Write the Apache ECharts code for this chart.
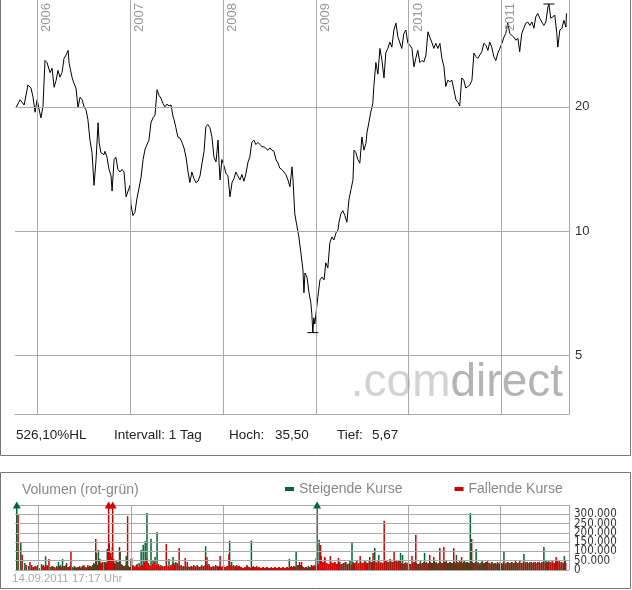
<!DOCTYPE html>
<html>
<head>
<meta charset="utf-8">
<script src="https://cdn.jsdelivr.net/npm/echarts@6/dist/echarts.min.js"></script>
<style>
  html, body { margin: 0; padding: 0; background: #fff; }
  #chart { width: 632px; height: 590px; }
</style>
</head>
<body>
<div id="chart"></div>
<script>
const dates = [
  // 2005
  '2005-10-09','2005-10-25','2005-11-10','2005-11-25','2005-12-07','2005-12-15','2005-12-23','2005-12-31',
  // 2006
  '2006-01-15','2006-01-23','2006-01-31','2006-02-08','2006-02-20','2006-02-28','2006-03-08','2006-03-16','2006-03-23','2006-03-31',
  '2006-04-08','2006-04-16','2006-04-24','2006-05-02','2006-05-06','2006-05-18','2006-05-25','2006-06-02','2006-06-10','2006-06-18',
  '2006-06-26','2006-07-04','2006-07-12','2006-07-19','2006-07-27','2006-08-04','2006-08-12','2006-08-20','2006-08-28','2006-09-01',
  '2006-09-08','2006-09-20','2006-09-24','2006-10-02','2006-10-10','2006-10-18','2006-10-22','2006-10-30','2006-11-06','2006-11-14',
  '2006-11-22','2006-11-30','2006-12-08','2006-12-16','2006-12-24',
  // 2007
  '2007-01-01','2007-01-04','2007-01-12','2007-01-20','2007-01-28','2007-02-05','2007-02-13','2007-02-21','2007-03-01','2007-03-08',
  '2007-03-16','2007-03-24','2007-04-01','2007-04-09','2007-04-17','2007-04-25','2007-05-02','2007-05-10','2007-05-18','2007-05-26',
  '2007-06-03','2007-06-11','2007-06-19','2007-06-23','2007-06-30','2007-07-08','2007-07-16','2007-07-24','2007-08-01','2007-08-09',
  '2007-08-17','2007-08-24','2007-09-01','2007-09-09','2007-09-17','2007-09-25','2007-10-03','2007-10-11','2007-10-19','2007-10-26',
  '2007-11-03','2007-11-11','2007-11-19','2007-11-27','2007-12-05','2007-12-13','2007-12-17','2007-12-21','2007-12-28',
  // 2008
  '2008-01-05','2008-01-13','2008-01-21','2008-01-29','2008-02-06','2008-02-14','2008-02-21','2008-02-29','2008-03-08','2008-03-16',
  '2008-03-24','2008-04-01','2008-04-09','2008-04-16','2008-04-24','2008-05-02','2008-05-10','2008-05-18','2008-05-26','2008-06-03',
  '2008-06-11','2008-06-18','2008-06-26','2008-07-04','2008-07-12','2008-07-20','2008-07-28','2008-08-05','2008-08-12','2008-08-20',
  '2008-08-28','2008-09-05','2008-09-13','2008-09-21','2008-09-29','2008-10-03','2008-10-10','2008-10-18','2008-10-26','2008-10-30',
  '2008-11-03','2008-11-11','2008-11-15','2008-11-19','2008-11-27','2008-12-05','2008-12-12','2008-12-16','2008-12-20','2008-12-24','2008-12-28',
  // 2009
  '2009-01-05','2009-01-09','2009-01-17','2009-01-25','2009-02-02','2009-02-09','2009-02-17','2009-02-25','2009-03-05','2009-03-13',
  '2009-03-21','2009-03-29','2009-04-02','2009-04-09','2009-04-17','2009-04-25','2009-05-03','2009-05-11','2009-05-19','2009-05-27',
  '2009-05-31','2009-06-07','2009-06-15','2009-06-23','2009-07-01','2009-07-09','2009-07-17','2009-07-21','2009-07-29','2009-08-05',
  '2009-08-13','2009-08-17','2009-08-25','2009-09-02','2009-09-10','2009-09-18','2009-09-26','2009-10-03','2009-10-11','2009-10-19',
  '2009-10-27','2009-11-04','2009-11-12','2009-11-20','2009-11-27','2009-12-05','2009-12-13','2009-12-21','2009-12-29',
  // 2010
  '2010-01-06','2010-01-14','2010-01-22','2010-01-29','2010-02-06','2010-02-14','2010-02-22','2010-03-02','2010-03-10','2010-03-18',
  '2010-03-25','2010-04-02','2010-04-10','2010-04-18','2010-04-26','2010-05-04','2010-05-12','2010-05-20','2010-05-27','2010-06-04',
  '2010-06-12','2010-06-20','2010-06-28','2010-07-06','2010-07-14','2010-07-21','2010-07-29','2010-08-06','2010-08-14','2010-08-22',
  '2010-08-30','2010-09-07','2010-09-15','2010-09-22','2010-09-30','2010-10-08','2010-10-16','2010-10-24','2010-11-01','2010-11-09',
  '2010-11-16','2010-11-24','2010-12-02','2010-12-10','2010-12-18','2010-12-26',
  // 2011
  '2011-01-03','2011-01-11','2011-01-18','2011-01-26','2011-02-03','2011-02-11','2011-02-19','2011-02-27','2011-03-07','2011-03-14',
  '2011-03-22','2011-03-30','2011-04-07','2011-04-15','2011-04-23','2011-05-01','2011-05-09','2011-05-16','2011-05-24','2011-06-01',
  '2011-06-09','2011-06-17','2011-06-25','2011-07-03','2011-07-07','2011-07-14','2011-07-22','2011-07-30','2011-08-07','2011-08-11',
  '2011-08-19','2011-08-27','2011-09-04','2011-09-12','2011-09-14'
]

const close = [
  19.9, 20.8, 20.2, 22.6, 22.2, 21.1, 19.4, 20.8,
  18.8, 20.0, 25.9, 25.6, 24.2, 24.8, 22.3, 23.2, 24.5, 23.6,
  24.2, 26.2, 26.7, 27.4, 25.5, 23.5, 22.8, 22.2, 19.9, 21.1,
  20.8, 20.0, 19.6, 18.6, 16.6, 15.5, 12.9, 14.9, 18.3, 16.4,
  15.5, 15.3, 15.6, 15.1, 14.1, 13.6, 12.5, 14.9, 15.1, 14.1,
  13.9, 14.1, 13.9, 12.1, 12.5,
  12.9, 11.6, 10.9, 11.1, 12.0, 12.7, 13.5, 14.9, 15.8, 15.9,
  16.6, 18.3, 18.8, 19.1, 22.0, 21.3, 21.0, 20.4, 20.0, 20.3,
  20.1, 20.2, 18.9, 18.6, 17.8, 16.9, 16.8, 16.4, 15.9, 15.1,
  13.9, 13.1, 13.9, 13.4, 13.1, 13.2, 13.6, 14.6, 15.6, 17.9,
  18.1, 17.8, 16.9, 15.1, 14.7, 16.6, 14.6, 13.3, 14.9,
  14.4, 13.8, 13.6, 12.1, 13.1, 13.4, 13.9, 13.6, 13.3, 13.7,
  13.2, 13.8, 14.7, 15.1, 16.4, 16.6, 16.2, 16.4, 16.2, 16.0,
  16.0, 15.9, 15.7, 15.9, 15.7, 15.6, 14.9, 14.6, 14.2, 14.1,
  13.9, 13.7, 13.3, 12.8, 14.3, 13.3, 11.0, 10.3, 9.67, 9.25,
  8.85, 8.05, 7.08, 7.91, 7.73, 7.08, 6.70, 6.30, 5.67, 6.16, 5.95,
  6.60, 6.94, 7.61, 7.73, 7.61, 8.37, 8.14, 9.36, 9.67, 9.51,
  9.89, 10.06, 10.5, 11.0, 11.2, 10.9, 10.5, 11.9, 12.6, 13.3,
  15.7, 15.5, 14.9, 14.6, 16.9, 15.7, 16.3, 17.3, 18.4, 19.4,
  20.4, 22.4, 25.6, 24.0, 27.7, 25.9, 23.5, 27.0, 27.7, 28.7,
  27.9, 30.7, 31.9, 29.5, 29.3, 27.7, 30.1, 30.7, 28.5,
  28.2, 27.7, 25.0, 26.2, 27.4, 25.6, 25.9, 25.7, 26.7, 30.4,
  29.5, 28.7, 27.7, 28.5, 27.7, 28.5, 26.2, 25.0, 22.4, 23.2,
  23.0, 23.2, 22.0, 20.8, 20.5, 20.1, 23.5, 23.2, 22.2, 22.4,
  22.6, 23.2, 27.0, 26.5, 26.2, 26.7, 27.2, 28.5, 28.2, 27.4,
  28.7, 27.9, 26.5, 25.9, 27.0, 27.7,
  28.5, 29.5, 30.1, 31.9, 30.1, 29.8, 29.5, 29.0, 29.3, 27.2,
  30.1, 31.0, 31.9, 32.1, 31.5, 32.1, 31.0, 33.0, 33.7, 32.8,
  32.1, 31.5, 32.1, 34.9, 35.5, 32.8, 33.0, 33.4, 30.1, 27.9,
  30.7, 31.0, 32.4, 31.2, 33.7
]

// Volumen an steigenden / fallenden Tagen
const volUp = [
  480000, 145000, 38000, 22000, 27000, 16000, 22000, 27000,
  32000, 27000, 74000, 22000, 16000, 22000, 16000, 22000, 43000, 27000,
  59000, 22000, 38000, 16000, 11000, 16000, 22000, 11000, 16000, 11000,
  22000, 16000, 11000, 16000, 22000, 27000, 32000, 92000, 108000, 43000,
  38000, 43000, 43000, 113000, 155000, 70000, 124000, 38000, 54000, 43000,
  102000, 27000, 22000, 75000, 22000,
  16000, 59000, 27000, 22000, 32000, 38000, 108000, 136000, 155000, 307000,
  27000, 168000, 54000, 70000, 204000, 22000, 27000, 16000, 22000, 27000,
  59000, 27000, 70000, 38000, 43000, 32000, 22000, 16000, 22000, 16000,
  22000, 16000, 22000, 27000, 16000, 22000, 16000, 27000, 22000, 128000,
  27000, 22000, 16000, 22000, 27000, 16000, 16000, 22000, 16000,
  27000, 16000, 22000, 158000, 43000, 27000, 22000, 16000, 22000, 16000,
  11000, 16000, 22000, 16000, 158000, 22000, 16000, 11000, 16000, 11000,
  16000, 11000, 16000, 11000, 16000, 11000, 16000, 11000, 16000, 11000,
  16000, 11000, 16000, 59000, 22000, 16000, 22000, 97000, 27000, 22000,
  16000, 22000, 16000, 11000, 16000, 22000, 16000, 11000, 16000, 22000, 27000,
  65000, 450000, 163000, 75000, 43000, 65000, 38000, 32000, 43000, 38000,
  43000, 32000, 38000, 43000, 32000, 38000, 43000, 32000, 54000, 145000,
  43000, 38000, 48000, 38000, 43000, 38000, 48000, 43000, 38000, 70000,
  43000, 43000, 118000, 38000, 81000, 43000, 38000, 43000, 54000, 43000,
  48000, 43000, 54000, 48000, 54000, 92000, 81000, 38000, 32000,
  38000, 32000, 38000, 43000, 38000, 32000, 48000, 38000, 92000, 43000,
  38000, 43000, 38000, 48000, 43000, 38000, 43000, 38000, 43000, 54000,
  38000, 43000, 38000, 43000, 81000, 38000, 43000, 38000, 54000, 43000,
  38000, 307000, 43000, 38000, 113000, 43000, 38000, 48000, 38000, 43000,
  38000, 32000, 43000, 38000, 32000, 38000,
  43000, 32000, 97000, 38000, 43000, 38000, 43000, 38000, 43000, 38000,
  48000, 38000, 86000, 43000, 38000, 43000, 38000, 43000, 38000, 43000,
  38000, 43000, 124000, 54000, 43000, 48000, 38000, 43000, 38000, 48000,
  43000, 38000, 43000, 38000, 75000
]

const volDown = [
  300000, 82000, 27000, 43000, 16000, 22000, 16000, 11000,
  22000, 16000, 27000, 59000, 22000, 16000, 11000, 16000, 22000, 16000,
  22000, 27000, 16000, 22000, 104000, 11000, 16000, 16000, 22000, 16000,
  27000, 16000, 27000, 22000, 16000, 38000, 167000, 27000, 59000, 38000,
  43000, 32000, 38000, 420000, 92000, 400000, 59000, 32000, 43000, 124000,
  32000, 22000, 27000, 290000, 16000,
  65000, 22000, 16000, 27000, 16000, 22000, 27000, 43000, 59000, 38000,
  22000, 32000, 43000, 27000, 32000, 16000, 22000, 22000, 140000, 16000,
  22000, 32000, 27000, 22000, 38000, 118000, 27000, 22000, 65000, 43000,
  16000, 22000, 16000, 22000, 27000, 16000, 22000, 16000, 27000, 70000,
  32000, 16000, 22000, 16000, 22000, 22000, 75000, 16000, 22000,
  16000, 22000, 86000, 27000, 22000, 16000, 27000, 22000, 16000, 11000,
  16000, 27000, 16000, 11000, 16000, 16000, 22000, 16000, 11000, 16000,
  11000, 16000, 11000, 11000, 11000, 16000, 11000, 16000, 11000, 16000,
  11000, 16000, 11000, 16000, 16000, 22000, 16000, 27000, 43000, 27000,
  43000, 16000, 11000, 16000, 11000, 16000, 27000, 22000, 11000, 16000, 22000,
  22000, 32000, 135000, 43000, 70000, 38000, 32000, 75000, 38000, 43000,
  32000, 65000, 27000, 32000, 38000, 43000, 32000, 38000, 27000, 32000,
  38000, 43000, 32000, 75000, 38000, 43000, 32000, 38000, 48000, 43000,
  92000, 38000, 43000, 48000, 38000, 38000, 265000, 54000, 43000, 59000,
  43000, 97000, 48000, 43000, 48000, 38000, 32000, 43000, 38000,
  32000, 75000, 43000, 190000, 32000, 38000, 32000, 43000, 38000, 32000,
  81000, 38000, 70000, 38000, 32000, 118000, 38000, 124000, 43000, 38000,
  43000, 38000, 118000, 38000, 43000, 48000, 70000, 43000, 38000, 43000,
  38000, 167000, 38000, 43000, 38000, 32000, 43000, 38000, 43000, 48000,
  38000, 43000, 32000, 38000, 43000, 32000,
  38000, 43000, 32000, 43000, 38000, 43000, 38000, 54000, 38000, 43000,
  38000, 43000, 38000, 43000, 38000, 43000, 38000, 43000, 38000, 43000,
  38000, 43000, 38000, 43000, 38000, 43000, 48000, 38000, 70000, 54000,
  48000, 43000, 38000, 48000, 38000
]

const years = [2006, 2007, 2008, 2009, 2010, 2011]
const priceTicks = [5, 10, 20]
const volTicks = [0, 50000, 100000, 150000, 200000, 250000, 300000]
const volMax = 350000

const ts = s => +new Date(s + 'T00:00:00')
const xMin = ts('2005-10-05')
const xMax = ts('2011-09-24')
const gridColor = '#aaaaaa'
const sans = "'Liberation Sans', Arial, sans-serif"
const narrow = "'Liberation Sans Narrow', 'DejaVu Sans Condensed', 'Liberation Sans', sans-serif"

const hoch = Math.max(...close)
const tief = Math.min(...close)
const komma = (v, d) => v.toFixed(d).replace('.', ',')
const tausender = v => String(v).replace(/\B(?=(\d{3})+(?!\d))/g, '.')

const yearLines = years.map(y => ({ xAxis: +new Date(y, 0, 1) }))

const chart = echarts.init(document.getElementById('chart'), null, { renderer: 'canvas' })

chart.setOption({
  animation: false,
  textStyle: { fontFamily: sans },
  grid: [
    { left: 15, top: 0, width: 554, height: 414 },
    { left: 15, top: 505, width: 554, height: 65 }
  ],
  legend: {
    data: ['Steigende Kurse', 'Fallende Kurse'],
    left: 285,
    top: 482,
    padding: 0,
    icon: 'rect',
    itemWidth: 9,
    itemHeight: 4,
    itemGap: 52,
    selectedMode: false,
    textStyle: { color: '#888', fontSize: 14, fontFamily: sans }
  },
  xAxis: [
    {
      type: 'time', gridIndex: 0, min: xMin, max: xMax,
      axisLine: { show: true, onZero: false, lineStyle: { color: gridColor } },
      axisTick: { show: false }, axisLabel: { show: false }, splitLine: { show: false }
    },
    {
      type: 'time', gridIndex: 1, min: xMin, max: xMax,
      axisLine: { show: false }, axisTick: { show: false },
      axisLabel: { show: false }, splitLine: { show: false }
    }
  ],
  yAxis: [
    {
      type: 'log', gridIndex: 0, position: 'right', min: 3.6, max: 36.3,
      axisLine: { show: true, lineStyle: { color: gridColor } },
      axisTick: { show: false }, axisLabel: { show: false }, splitLine: { show: false }
    },
    {
      type: 'value', gridIndex: 1, position: 'right', min: 0, max: volMax, interval: 50000,
      axisLine: { show: true, lineStyle: { color: gridColor } },
      axisTick: { show: false }, axisLabel: { show: false },
      splitLine: { show: true, lineStyle: { color: gridColor } }
    }
  ],
  series: [
    {
      // Raster Kurschart
      type: 'line', data: [], xAxisIndex: 0, yAxisIndex: 0, silent: true, z: 1,
      markLine: {
        silent: true, symbol: ['none', 'none'], animation: false,
        lineStyle: { color: gridColor, type: 'solid', width: 1 },
        data: [
          ...priceTicks.map(v => ({
            yAxis: v,
            label: { show: true, position: 'end', formatter: String(v), color: '#333', fontSize: 13, distance: 6 }
          })),
          ...yearLines.map((d, i) => ({
            xAxis: d.xAxis,
            label: {
              show: true, position: 'insideEndBottom', formatter: String(years[i]),
              color: '#999', fontSize: 13, distance: 3
            }
          }))
        ]
      }
    },
    {
      name: 'Kurs', type: 'line', xAxisIndex: 0, yAxisIndex: 0, z: 3,
      data: dates.map((d, i) => [ts(d), close[i]]),
      showSymbol: false, symbol: 'none',
      lineStyle: { color: '#000', width: 1 },
      markPoint: {
        symbol: 'rect', symbolSize: [11, 1], silent: true,
        label: { show: false }, itemStyle: { color: '#000' },
        data: [{ type: 'max' }, { type: 'min' }]
      }
    },
    {
      // Raster Volumen + Achsenbeschriftung
      type: 'line', data: [], xAxisIndex: 1, yAxisIndex: 1, silent: true, z: 1,
      markLine: {
        silent: true, symbol: ['none', 'none'], animation: false,
        lineStyle: { color: gridColor, type: 'solid', width: 1 },
        label: { show: false },
        data: [
          ...yearLines,
          ...volTicks.map(v => ({
            yAxis: v,
            label: {
              show: true, position: 'end', formatter: tausender(v),
              color: '#333', fontSize: 11.5, fontFamily: narrow, distance: 5
            }
          }))
        ]
      }
    },
    {
      name: 'Steigende Kurse', type: 'bar', xAxisIndex: 1, yAxisIndex: 1, z: 3,
      data: dates.map((d, i) => [ts(d), volUp[i]]),
      barWidth: 1.5, barGap: '-10%',
      itemStyle: { color: '#006633' },
      markPoint: {
        symbol: 'triangle', symbolSize: [8, 7], silent: true,
        label: { show: false }, itemStyle: { color: '#006633' },
        data: dates.filter((d, i) => volUp[i] > volMax).map(d => ({ coord: [ts(d), volMax] }))
      }
    },
    {
      name: 'Fallende Kurse', type: 'bar', xAxisIndex: 1, yAxisIndex: 1, z: 3,
      data: dates.map((d, i) => [ts(d), volDown[i]]),
      barWidth: 1.5, barGap: '-10%',
      itemStyle: { color: '#d40000' },
      markPoint: {
        symbol: 'triangle', symbolSize: [8, 7], silent: true,
        label: { show: false }, itemStyle: { color: '#d40000' },
        data: dates.filter((d, i) => volDown[i] > volMax).map(d => ({ coord: [ts(d), volMax] }))
      }
    }
  ],
  graphic: [
    // Rahmen
    { type: 'rect', shape: { x: 0.5, y: -2, width: 630, height: 457.5 }, style: { fill: 'none', stroke: '#777', lineWidth: 1 }, silent: true },
    { type: 'rect', shape: { x: 0.5, y: 472.5, width: 630, height: 116 }, style: { fill: 'none', stroke: '#777', lineWidth: 1 }, silent: true },
    // Logo
    {
      type: 'text', x: 563, y: 383, silent: true, z: 0,
      style: {
        text: '{a|.com}{b|direct}', align: 'right', verticalAlign: 'middle',
        rich: {
          a: { fill: '#d2d2d2', fontSize: 46, fontFamily: sans },
          b: { fill: '#b4b4b4', fontSize: 46, fontFamily: sans }
        }
      }
    },
    // Kennzahlen
    { type: 'text', x: 16, y: 435, silent: true, style: { text: komma((hoch / tief - 1) * 100, 2) + '%HL', fill: '#222', fontSize: 13.5, fontFamily: sans, verticalAlign: 'middle' } },
    { type: 'text', x: 114, y: 435, silent: true, style: { text: 'Intervall: 1 Tag', fill: '#222', fontSize: 13.5, fontFamily: sans, verticalAlign: 'middle' } },
    { type: 'text', x: 229, y: 435, silent: true, style: { text: 'Hoch:', fill: '#222', fontSize: 13.5, fontFamily: sans, verticalAlign: 'middle' } },
    { type: 'text', x: 275, y: 435, silent: true, style: { text: komma(hoch, 2), fill: '#222', fontSize: 13.5, fontFamily: sans, verticalAlign: 'middle' } },
    { type: 'text', x: 337, y: 435, silent: true, style: { text: 'Tief:', fill: '#222', fontSize: 13.5, fontFamily: sans, verticalAlign: 'middle' } },
    { type: 'text', x: 372, y: 435, silent: true, style: { text: komma(tief, 2), fill: '#222', fontSize: 13.5, fontFamily: sans, verticalAlign: 'middle' } },
    // Volumen
    { type: 'text', x: 22, y: 490, silent: true, style: { text: 'Volumen (rot-grün)', fill: '#888', fontSize: 14, fontFamily: sans, verticalAlign: 'middle' } },
    { type: 'text', x: 12, y: 579, silent: true, style: { text: '14.09.2011 17:17 Uhr', fill: '#aaa', fontSize: 11.5, fontFamily: sans, verticalAlign: 'middle' } }
  ]
})
</script>
</body>
</html>
